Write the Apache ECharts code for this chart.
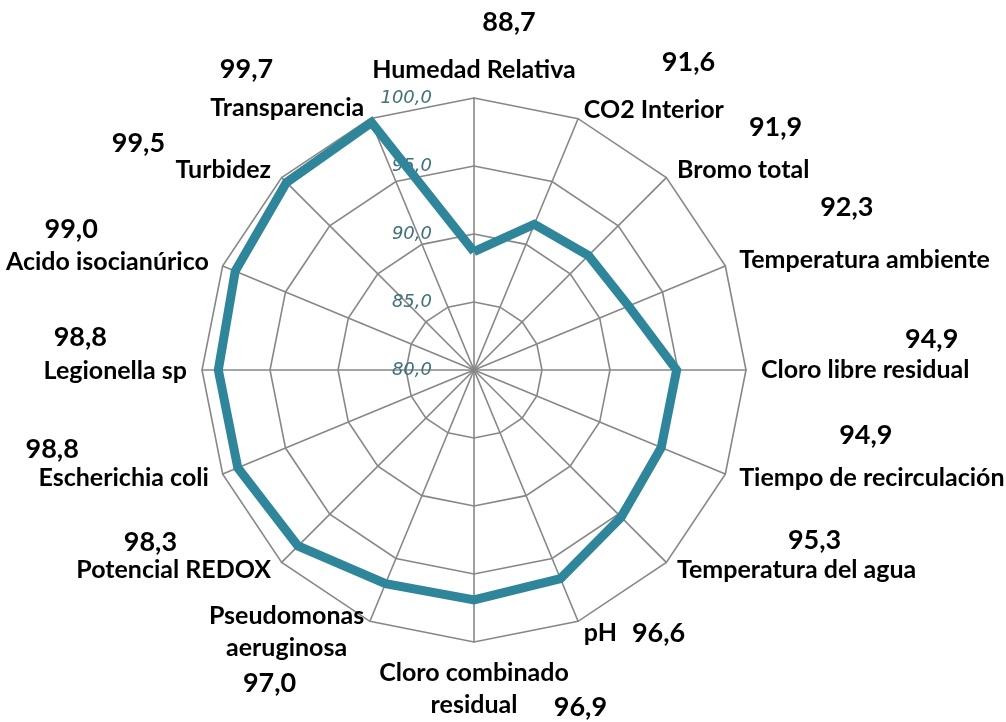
<!DOCTYPE html>
<html>
<head>
<meta charset="utf-8">
<title>Radar de indicadores</title>
<script src="https://cdn.jsdelivr.net/npm/echarts@6/dist/echarts.min.js"></script>
<style>
  html, body { margin: 0; padding: 0; background: #ffffff; }
  #chart { width: 1006px; height: 722px; }
</style>
</head>
<body>
<div id="chart"></div>
<script>
// Indicators, clockwise from the top
const indicatorNames = [
  'Humedad Relativa', 'CO2 Interior', 'Bromo total', 'Temperatura ambiente',
  'Cloro libre residual', 'Tiempo de recirculación', 'Temperatura del agua', 'pH',
  'Cloro combinado residual', 'Pseudomonas aeruginosa', 'Potencial REDOX', 'Escherichia coli',
  'Legionella sp', 'Acido isocianúrico', 'Turbidez', 'Transparencia'
];
// Score of each indicator
const scores = [
  88.7, 91.6, 91.9, 92.3,
  94.9, 94.9, 95.3, 96.6,
  96.9, 97.0, 98.3, 98.8,
  98.8, 99.0, 99.5, 99.7
];
// Radial scale
const scaleMin = 80;
const scaleMax = 100;
const scaleStep = 5;

const fmtNum = v => v.toFixed(1).replace('.', ',');

// ECharts lays radar indicators out counter-clockwise, so feed them in reverse
// (keeping the first one on top) to read clockwise.
const order = [0].concat(indicatorNames.map((_, i) => indicatorNames.length - 1 - i).slice(0, -1));

// Placement of each value label relative to its indicator name
// side: l = left-aligned text (right half), r = right-aligned text (left half), c = above the top axis
// dx: horizontal shift of the value, gap: distance between value and name centres, dy: name shift
const labelPlacement = [
  { side: 'c', dx: 35, gap: 48 },
  { side: 'l', dx: 78, gap: 48, dy: 5 },
  { side: 'l', dx: 72, gap: 43, dy: 3 },
  { side: 'l', dx: 81, gap: 53, dy: 0 },
  { side: 'l', dx: 144, gap: 31, dy: 0 },
  { side: 'l', dx: 100, gap: 43, dy: -2 },
  { side: 'l', dx: 111, gap: 30, dy: -3 },
  { side: 'inline', dx: 15 },
  { side: 'below', dx: 36 },
  { side: 'stack', dx: -17 },
  { side: 'r', dx: -94, gap: 28, dy: -3 },
  { side: 'r', dx: -130, gap: 29, dy: -2 },
  { side: 'r', dx: -80, gap: 34, dy: 1 },
  { side: 'r', dx: -111, gap: 33, dy: 2 },
  { side: 'r', dx: -106, gap: 27, dy: 3 },
  { side: 'r', dx: -91, gap: 39, dy: 3 }
];

const FONT = 'Lato';
const NAME_SIZE = 25;
const VALUE_SIZE = 27;
const NAME_LH = 26;

const nameTok = extra => Object.assign({
  fontFamily: FONT, fontWeight: 'bold', fontSize: NAME_SIZE, color: '#000000', lineHeight: NAME_LH
}, extra);
const valueTok = extra => Object.assign({
  fontFamily: FONT, fontWeight: 'bold', fontSize: VALUE_SIZE, color: '#000000'
}, extra);

// Rich styles and label strings for every indicator
const rich = {};
const labelText = {};
indicatorNames.forEach((name, i) => {
  const p = labelPlacement[i];
  const val = fmtNum(scores[i]);
  const n = 'n' + i, v = 'v' + i;
  if (p.side === 'c') {
    rich[v] = valueTok({ lineHeight: 2 * p.gap - NAME_LH, padding: [0, 0, 0, 2 * p.dx] });
    rich[n] = nameTok({});
    labelText[name] = '{' + v + '|' + val + '}\n{' + n + '|' + name + '}';
  } else if (p.side === 'l' || p.side === 'r') {
    // both lines are gap tall; lift them so that the name sits dy below the anchor
    const lift = 2 * (p.gap / 2 - p.dy);
    const hPad = p.side === 'r' ? [0, -p.dx] : [p.dx, 0];
    rich[v] = valueTok({ lineHeight: p.gap, padding: [0, hPad[1], lift, hPad[0]] });
    rich[n] = nameTok({ lineHeight: p.gap, padding: [0, 0, lift, 0] });
    labelText[name] = '{' + v + '|' + val + '}\n{' + n + '|' + name + '}';
  } else if (p.side === 'inline') {
    rich[n] = nameTok({ lineHeight: 30, padding: [0, 0, 4, 0] });
    rich[v] = valueTok({ lineHeight: 30, padding: [0, 0, 4, p.dx] });
    labelText[name] = '{' + n + '|' + name + '}{' + v + '|' + val + '}';
  } else if (p.side === 'below') {
    const words = name.split(' ');
    const first = words.slice(0, 2).join(' ');
    const second = words.slice(2).join(' ');
    const vw = 54;
    rich[n] = nameTok({ lineHeight: 32 });
    rich[n + 'p'] = nameTok({ lineHeight: 32, width: vw + p.dx });
    rich[v] = valueTok({ lineHeight: 32, width: vw, padding: [4, 0, 0, p.dx] });
    labelText[name] = '{' + n + '|' + first + '}\n{' + n + 'p| }{' + n + '|' + second + '}{' + v + '|' + val + '}';
  } else if (p.side === 'stack') {
    const words = name.split(' ');
    rich[n + 'a'] = nameTok({ lineHeight: 32, align: 'center', padding: [32, 0, 0, 0] });
    rich[n + 'b'] = nameTok({ lineHeight: 32, align: 'center', padding: [32, 0, 0, 0] });
    rich[v] = valueTok({ lineHeight: 38, align: 'center', padding: [32, -2 * p.dx, 0, 0] });
    labelText[name] = '{' + n + 'a|' + words[0] + '}\n{' + n + 'b|' + words[1] + '}\n{' + v + '|' + val + '}';
  }
});

const chart = echarts.init(document.getElementById('chart'), null, { renderer: 'canvas' });

const center = [474, 370];
const radius = 272;
const gridColor = '#878787';

chart.setOption({
  backgroundColor: '#ffffff',
  animation: false,
  textStyle: { fontFamily: FONT },
  radar: {
    center: center,
    radius: radius,
    startAngle: 90,
    shape: 'polygon',
    splitNumber: (scaleMax - scaleMin) / scaleStep,
    nameGap: 15,
    indicator: order.map(i => ({ name: indicatorNames[i], min: scaleMin, max: scaleMax })),
    axisName: {
      fontFamily: FONT,
      fontWeight: 'bold',
      fontSize: NAME_SIZE,
      color: '#000000',
      formatter: name => labelText[name],
      rich: rich
    },
    axisLine: { lineStyle: { color: gridColor, width: 1.6 } },
    splitLine: { lineStyle: { color: gridColor, width: 1.6 } },
    splitArea: { show: false },
    axisTick: { show: false },
    axisLabel: { show: false }
  },
  // Polar frame laid over the radar, used only for the radial scale labels
  polar: { center: center, radius: radius },
  angleAxis: { type: 'value', min: 0, max: 360, startAngle: 90, show: false },
  radiusAxis: {
    type: 'value',
    min: scaleMin,
    max: scaleMax,
    interval: scaleStep,
    axisLine: { show: false },
    axisTick: { show: false },
    splitLine: { show: false },
    axisLabel: {
      margin: 42,
      color: '#41717a',
      fontStyle: 'italic',
      fontFamily: 'DejaVu Sans',
      fontSize: 18,
      formatter: v => fmtNum(v)
    }
  },
  series: [{
    type: 'radar',
    symbol: 'none',
    lineStyle: { color: '#2f869b', width: 9, join: 'miter' },
    data: [{ value: order.map(i => scores[i]), name: 'Puntuación' }]
  }]
});
</script>
</body>
</html>
